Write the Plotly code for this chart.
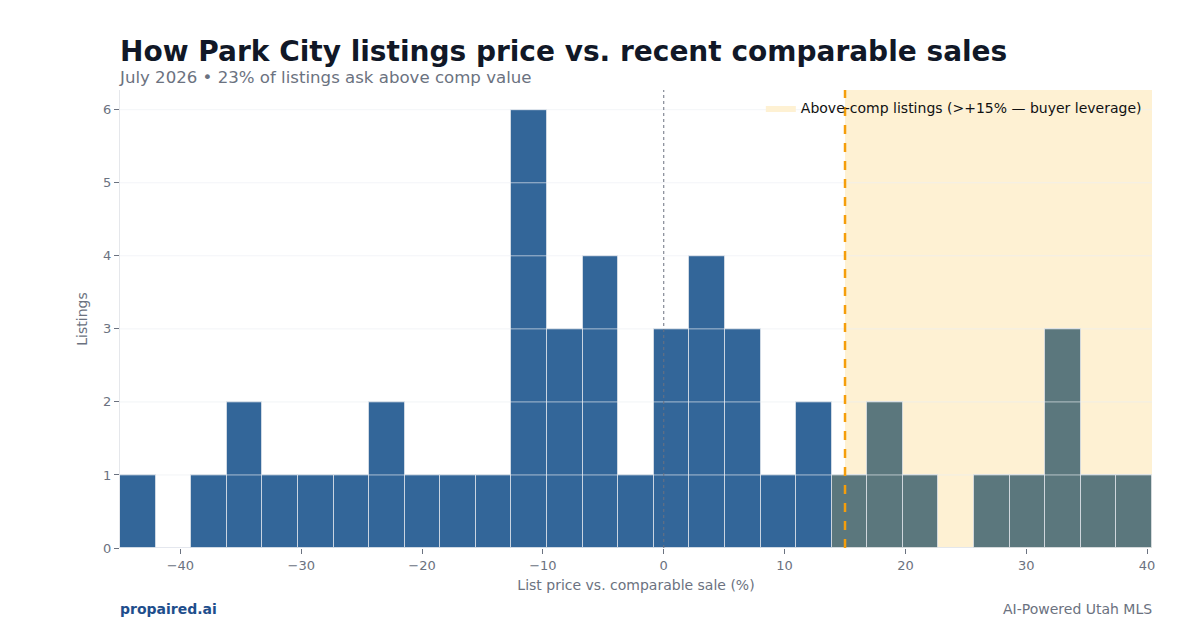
import plotly.graph_objects as go

# ---- data ----
bin_start = -45.0
bin_width = 2.945
counts = [1, 0, 1, 2, 1, 1, 1, 2, 1, 1, 1, 6, 3, 4, 1, 3, 4, 3, 1, 2,
          1, 2, 1, 0, 1, 1, 3, 1, 1]
threshold = 15
y_ticks = [0, 1, 2, 3, 4, 5, 6]
x_ticks = [-40, -30, -20, -10, 0, 10, 20, 30, 40]

title = "How Park City listings price vs. recent comparable sales"
subtitle = "July 2026 • 23% of listings ask above comp value"
zone_label = "Above-comp listings (>+15% — buyer leverage)"

centers = [bin_start + (i + 0.5) * bin_width for i in range(len(counts))]
x_max = bin_start + len(counts) * bin_width

below_x = [c for c in centers if c < threshold]
below_y = [n for c, n in zip(centers, counts) if c < threshold]
above_x = [c for c in centers if c >= threshold]
above_y = [n for c, n in zip(centers, counts) if c >= threshold]

FONT = "DejaVu Sans"
GRAY = "#6b7280"
ZONE = "#fef1d3"

fig = go.Figure()
fig.add_trace(go.Bar(x=below_x, y=below_y, width=bin_width,
                     marker=dict(color="#336699", line=dict(color="rgba(225,230,236,0.75)", width=1)),
                     showlegend=False, hoverinfo="skip"))
fig.add_trace(go.Bar(x=above_x, y=above_y, width=bin_width,
                     marker=dict(color="#5b777d", line=dict(color="rgba(225,230,236,0.75)", width=1)),
                     showlegend=False, hoverinfo="skip"))
# legend entry for the shaded zone
fig.add_trace(go.Scatter(x=[None], y=[None], mode="lines", fill="toself", fillcolor=ZONE,
                         line=dict(width=0, color=ZONE), name=zone_label, showlegend=True,
                         hoverinfo="skip"))

# shaded above-comp zone
fig.add_shape(type="rect", xref="x", yref="paper", x0=threshold, x1=x_max, y0=0, y1=1,
              fillcolor=ZONE, line=dict(width=0), layer="below")

# gridlines drawn above the bars
for t in y_ticks[1:]:
    fig.add_shape(type="line", xref="paper", yref="y", x0=0, x1=1, y0=t, y1=t,
                  line=dict(color="rgba(235,238,242,0.65)", width=1), layer="above")

# zero reference line
fig.add_shape(type="line", xref="x", yref="paper", x0=0, x1=0, y0=0, y1=1,
              line=dict(color=GRAY, width=1, dash="dot"), layer="above")
# threshold line
fig.add_shape(type="line", xref="x", yref="paper", x0=threshold, x1=threshold, y0=0, y1=1,
              line=dict(color="#f59e0b", width=2.5, dash="dash"), layer="above")

fig.update_layout(
    width=1200, height=630,
    margin=dict(l=120, r=48, t=90, b=82),
    paper_bgcolor="white", plot_bgcolor="white",
    bargap=0,
    font=dict(family=FONT, color=GRAY, size=13),
    title=dict(text="<b>" + title + "</b>", x=0.1, xanchor="left", y=1 - 51 / 630, yanchor="middle",
               font=dict(family=FONT, size=28, color="#111827")),
    legend=dict(x=0.995, xanchor="right", y=0.995, yanchor="top", bgcolor="rgba(0,0,0,0)",
                font=dict(family=FONT, size=14, color="#111111")),
    xaxis=dict(range=[bin_start, x_max], tickvals=x_ticks, showgrid=False, zeroline=False,
               ticks="outside", ticklen=5, tickcolor=GRAY, showline=False,
               tickfont=dict(size=13, color=GRAY),
               title=dict(text="List price vs. comparable sale (%)", standoff=8,
                          font=dict(size=14, color=GRAY))),
    yaxis=dict(range=[0, 6.27], tickvals=y_ticks, showgrid=False,
               zeroline=False, ticks="outside", ticklen=5, tickcolor=GRAY,
               showline=True, linecolor="#e5e7eb", linewidth=1,
               tickfont=dict(size=13, color=GRAY),
               title=dict(text="Listings", standoff=12, font=dict(size=14, color=GRAY))),
)

fig.add_annotation(text=subtitle, xref="paper", yref="paper", x=0, y=1 + (90 - 77) / 458,
                   xanchor="left", yanchor="middle", showarrow=False, xshift=-3,
                   font=dict(family=FONT, size=16.6, color=GRAY))
fig.add_annotation(text="<b>propaired.ai</b>", xref="paper", yref="paper", x=0, y=-(609 - 548) / 458,
                   xanchor="left", yanchor="middle", showarrow=False, xshift=-2,
                   font=dict(family=FONT, size=14, color="#1e4e8c"))
fig.add_annotation(text="AI-Powered Utah MLS", xref="paper", yref="paper", x=1, y=-(609 - 548) / 458,
                   xanchor="right", yanchor="middle", showarrow=False, xshift=2,
                   font=dict(family=FONT, size=14, color=GRAY))

fig.write_html("out.html")
